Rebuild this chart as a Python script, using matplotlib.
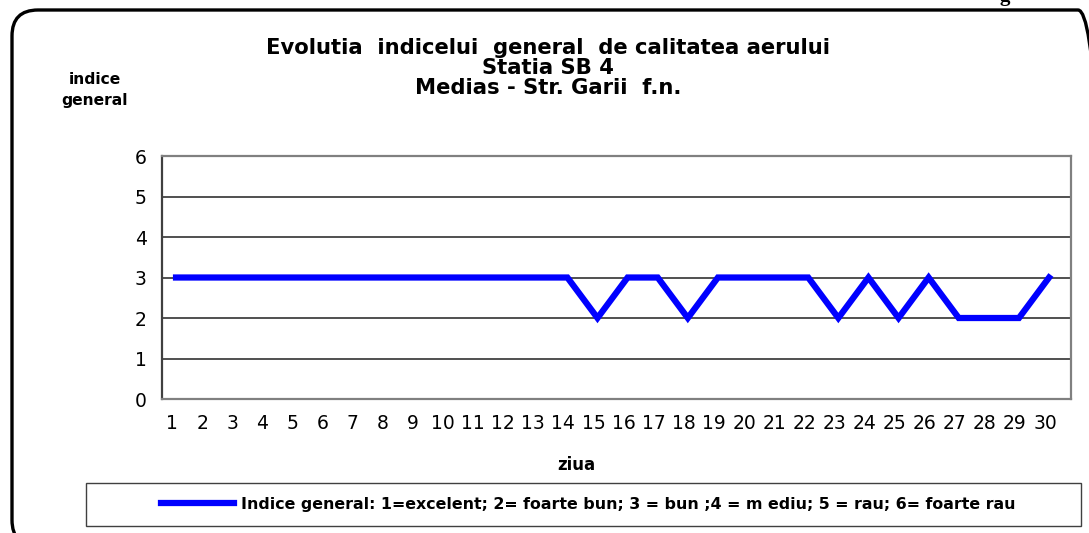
import matplotlib.pyplot as plt
import matplotlib.transforms as mtransforms
from matplotlib.patches import FancyBboxPatch, Rectangle

# zilele lunii si indicele general
zile = list(range(1, 31))
indice = [3, 3, 3, 3, 3, 3, 3, 3, 3, 3, 3, 3, 3, 3,
          2, 3, 3, 2, 3, 3, 3, 3, 2, 3, 2, 3, 2, 2, 2, 3]
y_ticks = [0, 1, 2, 3, 4, 5, 6]

titlu = ["Evolutia  indicelui  general  de calitatea aerului",
         "Statia SB 4",
         "Medias - Str. Garii  f.n."]
eticheta_legenda = "Indice general: 1=excelent; 2= foarte bun; 3 = bun ;4 = m ediu; 5 = rau; 6= foarte rau"

plt.rcParams['font.family'] = ['DejaVu Sans']

W, H = 1089, 533
fig = plt.figure(figsize=(10.89, 5.33), dpi=100)

# fundal in coordonate pixel (y de jos in sus) pentru chenar si caseta legendei
bg = fig.add_axes([0, 0, 1, 1])
bg.set_xlim(0, W)
bg.set_ylim(0, H)
bg.axis('off')
bg.add_patch(FancyBboxPatch((12, H - 546), 1092, 536, boxstyle="round,pad=0,rounding_size=26",
                            fill=False, edgecolor='black', linewidth=2.4))
bg.add_patch(Rectangle((86, H - 526), 995, 43, fill=False, edgecolor='#404040', linewidth=1.0))
bg.text(1005, H - 0.5, 'g', family='Liberation Serif', fontweight='bold', fontsize=15,
        ha='center', va='baseline')

# titlu, linie cu linie
for i, rand in enumerate(titlu):
    bg.text(548, H - (47.5 + i * 20.3), rand, ha='center', va='center', fontsize=15.2, fontweight='bold')
bg.text(95, H - 80, "indice", ha='center', va='center', fontsize=11.2, fontweight='bold')
bg.text(95, H - 100, "general", ha='center', va='center', fontsize=11.2, fontweight='bold')
bg.text(576, H - 465, "ziua", ha='center', va='center', fontsize=12, fontweight='bold')

ax = fig.add_axes([0.1488, 0.2514, 0.8347, 0.4559])
line, = ax.plot(zile, indice, color='#0000FF', linewidth=4.5, solid_joinstyle='miter')
ax.set_xlim(0.535, 30.73)
ax.set_ylim(0, 6)
ax.set_yticks(y_ticks)
ax.set_xticks(zile)
ax.set_xticklabels([str(z) for z in zile])
ax.tick_params(axis='y', length=0, labelsize=13.5, pad=11)
ax.tick_params(axis='x', length=0, labelsize=13.5, pad=11)
offset = mtransforms.ScaledTranslation(-4 / 100, 0, fig.dpi_scale_trans)
for lbl in ax.get_xticklabels():
    lbl.set_transform(lbl.get_transform() + offset)
for yv in y_ticks[1:-1]:
    ax.axhline(yv, color='#202020', linewidth=1.1, zorder=0)
for side in ['top', 'right', 'bottom']:
    ax.spines[side].set_color('#808080')
    ax.spines[side].set_linewidth(1.6)
ax.spines['left'].set_color('#404040')
ax.spines['left'].set_linewidth(1.6)

fig.legend([line], [eticheta_legenda], loc='center', bbox_to_anchor=(588.5 / W, 1 - 504 / H),
           frameon=False, handlelength=4.6, handletextpad=0.45,
           prop={'weight': 'bold', 'size': 11.4})

fig.savefig('out.png', dpi=100)
